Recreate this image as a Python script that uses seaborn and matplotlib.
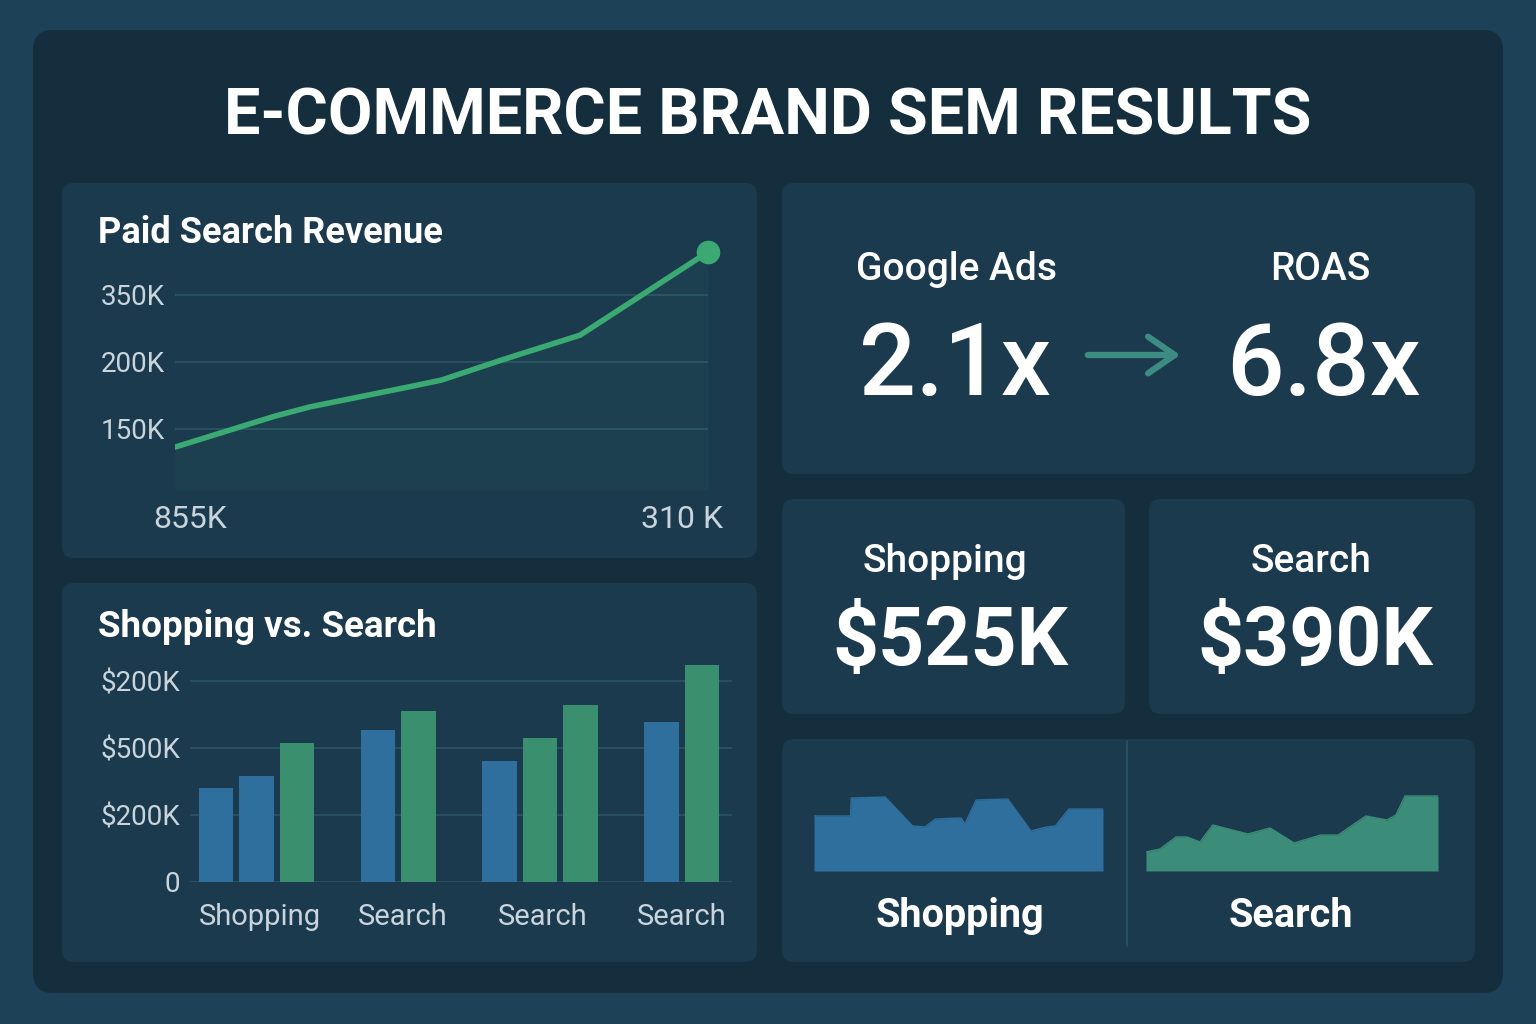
import numpy as np
import pandas as pd
from matplotlib import pyplot as plt
from matplotlib.patches import FancyBboxPatch
import seaborn as sns

# ---- data ----
title = "E-COMMERCE BRAND SEM RESULTS"

# paid search revenue line
rev_x = [0, 2.8, 3.8, 6.6, 7.5, 9.2, 11.4, 15]
rev_y = [123, 169, 183, 213, 223, 253, 290, 414]
rev_yticks = [150, 250, 350]
rev_ylabels = ["150K", "200K", "350K"]
rev_xticks = [0.42, 14.27]
rev_xlabels = ["855K", "310 K"]

# shopping vs search bars
bar_slot = [0, 1, 2, 4, 5, 7, 8, 9, 11, 12]
bar_value = [282, 318, 416, 454, 511, 362, 431, 529, 478, 647]
bar_channel = ["Shopping", "Shopping", "Search", "Shopping", "Search",
               "Shopping", "Search", "Search", "Shopping", "Search"]
bar_yticks = [0, 200, 400, 600]
bar_ylabels = ["0", "$200K", "$500K", "$200K"]
bar_xticks = [1.09, 4.6, 8.07, 11.5]
bar_xlabels = ["Shopping", "Search", "Search", "Search"]

# KPI cards
roas_before = "2.1x"
roas_after = "6.8x"
shopping_total = "$525K"
search_total = "$390K"

# sparklines
shop_x = [0, 12.6, 12.9, 24.6, 34.1, 38.4, 41.9, 50.9, 52.2, 56.1, 67.0, 75.1, 80.4, 83.5, 88.2, 100]
shop_y = [55, 55, 73, 74, 45, 44, 52, 53, 47, 71, 72, 40, 44, 45, 62, 62]
search_x = [0, 4.8, 10.3, 14.0, 18.5, 22.9, 34.9, 42.5, 50.7, 59.9, 65.8, 75.3, 82.5, 85.6, 88.7, 100]
search_y = [19, 22, 34, 34, 29, 46, 37, 43, 28, 36, 36, 55, 51, 56, 75, 75]

# ---- style ----
OUTER = "#1d4156"
PANEL = "#142e3d"
CARD = "#1b3a4e"
GRID = "#2b5566"
TICK = "#c9d5dd"
BLUE = "#2e6f9e"
GREEN = "#3a8f6f"
LINE_GREEN = "#3aaa72"
SPARK_GREEN = "#3b8c78"
ARROW = "#3d8c84"

sns.set_theme(style="dark")
plt.rcParams["font.family"] = ["Roboto", "DejaVu Sans"]

W, H = 1536, 1024
fig = plt.figure(figsize=(W / 100, H / 100), dpi=100, facecolor=OUTER)

bg = fig.add_axes([0, 0, 1, 1], zorder=0)
bg.set_xlim(0, W)
bg.set_ylim(H, 0)
bg.axis("off")


def card(x0, y0, x1, y1, color, r=12):
    bg.add_patch(FancyBboxPatch((x0, y0), x1 - x0, y1 - y0,
                                boxstyle=f"round,pad=0,rounding_size={r}",
                                fc=color, ec="none"))


def px_axes(x0, y0, x1, y1):
    a = fig.add_axes([x0 / W, 1 - y1 / H, (x1 - x0) / W, (y1 - y0) / H], zorder=2)
    a.set_facecolor("none")
    for s in a.spines.values():
        s.set_visible(False)
    return a


card(33, 30, 1503, 993, PANEL, r=20)
card(62, 183, 757, 558, CARD)
card(62, 583, 757, 962, CARD)
card(782, 183, 1475, 474, CARD)
card(782, 499, 1125, 714, CARD)
card(1149, 499, 1475, 714, CARD)
card(782, 739, 1475, 962, CARD)
bg.plot([1127, 1127], [741, 946], color=GRID, lw=1.2)

bg.text(768, 117, title, ha="center", va="center", color="white",
        fontsize=46.5, fontweight="bold")

# ---- line chart ----
bg.text(98, 233, "Paid Search Revenue", ha="left", va="center", color="white",
        fontsize=26, fontweight="bold")
ax = px_axes(175, 250, 708, 490)
ax.set_xlim(0, 15)
ax.set_ylim(59, 417)
for v in rev_yticks:
    ax.axhline(v, color=GRID, lw=1.2, zorder=1)
ax.fill_between(rev_x, rev_y, 59, color=LINE_GREEN, alpha=0.06, lw=0)
sns.lineplot(x=rev_x, y=rev_y, ax=ax, color=LINE_GREEN, lw=4, zorder=3)
ax.plot(rev_x[-1], rev_y[-1], "o", color=LINE_GREEN, ms=16, clip_on=False, zorder=4)
ax.set_yticks(rev_yticks, rev_ylabels)
ax.set_xticks(rev_xticks, rev_xlabels)
ax.tick_params(axis="y", length=0, pad=7, labelsize=20, labelcolor=TICK)
ax.tick_params(axis="x", length=0, pad=11, labelsize=23, labelcolor=TICK)
ax.grid(False)
ax.set_xlabel("")
ax.set_ylabel("")

# ---- bar chart ----
bg.text(98, 627, "Shopping vs. Search", ha="left", va="center", color="white",
        fontsize=26.5, fontweight="bold")
bars = pd.DataFrame({"slot": bar_slot, "value": bar_value, "channel": bar_channel})
bx = px_axes(190, 660, 732, 882)
for v in bar_yticks:
    bx.axhline(v, color=GRID, lw=1.2, zorder=0)
sns.barplot(data=bars, x="slot", y="value", hue="channel",
            palette={"Shopping": BLUE, "Search": GREEN},
            native_scale=True, dodge=False, width=0.86, saturation=1,
            legend=False, ax=bx, zorder=2, edgecolor="none", linewidth=0)
bx.set_xlim(-0.642, 12.74)
bx.set_ylim(0, 663)
bx.set_yticks(bar_yticks, bar_ylabels)
bx.set_xticks(bar_xticks, bar_xlabels)
bx.tick_params(axis="y", length=0, pad=7, labelsize=20, labelcolor=TICK)
bx.tick_params(axis="x", length=0, pad=15, labelsize=21, labelcolor=TICK)
bx.grid(False)
bx.set_xlabel("")
bx.set_ylabel("")

# ---- ROAS card ----
bg.text(957, 270, "Google Ads", ha="center", va="center", color="white",
        fontsize=28, fontweight="medium")
bg.text(1320, 270, "ROAS", ha="center", va="center", color="white",
        fontsize=28, fontweight="medium")
bg.text(955, 367, roas_before, ha="center", va="center", color="white",
        fontsize=72, fontweight="medium")
bg.text(1323, 367, roas_after, ha="center", va="center", color="white",
        fontsize=73, fontweight="medium")
bg.annotate("", xy=(1183, 355), xytext=(1085, 355),
            arrowprops=dict(arrowstyle="->,head_length=1.6,head_width=1.1",
                            color=ARROW, lw=4.5))

# ---- totals ----
bg.text(945, 561, "Shopping", ha="center", va="center", color="white",
        fontsize=28, fontweight="medium")
bg.text(950, 643, shopping_total, ha="center", va="center", color="white",
        fontsize=58, fontweight="bold")
bg.text(1311, 561, "Search", ha="center", va="center", color="white",
        fontsize=28, fontweight="medium")
bg.text(1315, 643, search_total, ha="center", va="center", color="white",
        fontsize=58, fontweight="bold")

# ---- sparklines ----
for (x0, x1), xs, ys, col in [((814, 1103), shop_x, shop_y, BLUE),
                              ((1146, 1438), search_x, search_y, SPARK_GREEN)]:
    sx = px_axes(x0, 791, x1, 871)
    sx.fill_between(xs, ys, 0, color=col, lw=0)
    sns.lineplot(x=xs, y=ys, ax=sx, color=col, lw=1)
    sx.set_xlim(0, 100)
    sx.set_ylim(0, 80)
    sx.set_xticks([])
    sx.set_yticks([])
    sx.grid(False)

bg.text(960, 916, "Shopping", ha="center", va="center", color="white",
        fontsize=28.5, fontweight="bold")
bg.text(1291, 916, "Search", ha="center", va="center", color="white",
        fontsize=28.5, fontweight="bold")

fig.savefig("out.png", dpi=100, facecolor=OUTER)
